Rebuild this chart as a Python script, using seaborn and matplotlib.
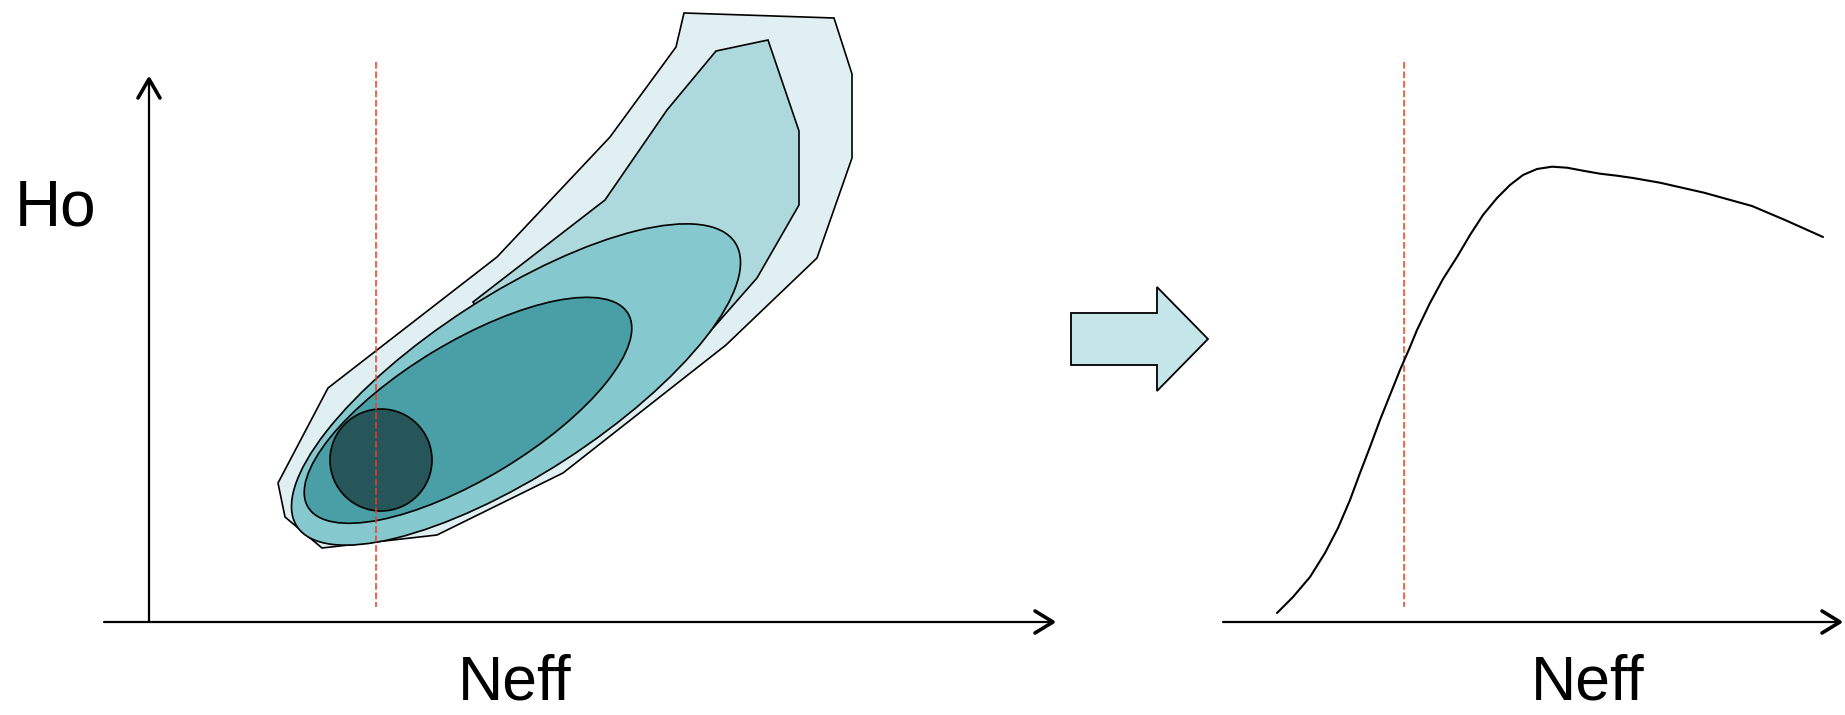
import matplotlib
matplotlib.use("Agg")
import matplotlib.pyplot as plt
from matplotlib.patches import Polygon, Ellipse, Circle
import seaborn as sns
import numpy as np

# everything is laid out in picture pixels (x right, y down)
outer_x = [684, 834, 852, 852, 817, 726, 563, 437, 322, 285, 278, 328, 497, 610, 676]
outer_y = [13, 18, 74, 158, 258, 345, 473, 535, 548, 517, 483, 388, 257, 137, 47]

inner_x = [716, 768, 799, 799, 757, 685, 600, 500, 473, 605, 667]
inner_y = [51, 40, 131, 205, 278, 360, 380, 340, 302, 200, 110]

# ellipses: centre x, centre y, width, height, tilt (deg)
ell_95 = (516, 384.5, 522, 180, 32.9)
ell_68 = (468, 410.3, 374, 136, 31.2)
best_fit = (381, 460, 51)

# projected curve on the right
curve_x = [1277, 1293, 1310, 1325, 1338, 1350, 1360, 1370, 1380, 1390, 1400, 1410,
           1417, 1430, 1443, 1457, 1470, 1483, 1497, 1510, 1523, 1537, 1552, 1567,
           1583, 1600, 1617, 1633, 1660, 1704, 1752, 1785, 1823]
curve_y = [613, 597, 577, 553, 528, 500, 473, 447, 420, 395, 370, 347,
           330, 303, 279, 257, 235, 215, 198, 185, 175, 169, 166.7, 167.7,
           170.7, 173.7, 175.7, 178, 182.7, 192.7, 206, 220, 237]

cut_x = [376, 1404]
cut_top, cut_bottom = 62, 607

arrow_x = [1071, 1157, 1157, 1208, 1157, 1157, 1071]
arrow_y = [313, 313, 287, 339, 391, 365, 365]

sns.set_style("white")
plt.rcParams['font.family'] = ['Liberation Sans', 'DejaVu Sans']

fig = plt.figure(figsize=(18.45, 7.15), dpi=100)
ax = fig.add_axes([0, 0, 1, 1])
ax.set_xlim(0, 1845)
ax.set_ylim(715, 0)
ax.axis('off')

ax.add_patch(Polygon(np.column_stack([outer_x, outer_y]), closed=True,
                     facecolor='#e0f0f2', edgecolor='black', lw=1.2, zorder=1))
ax.add_patch(Polygon(np.column_stack([inner_x, inner_y]), closed=True,
                     facecolor='#add9dd', edgecolor='black', lw=1.2, zorder=2))
cx, cy, w, h, a = ell_95
ax.add_patch(Ellipse((cx, cy), w, h, angle=-a, facecolor='#85c9cf',
                     edgecolor='black', lw=1.2, zorder=3))
cx, cy, w, h, a = ell_68
ax.add_patch(Ellipse((cx, cy), w, h, angle=-a, facecolor='#4a9ea5',
                     edgecolor='black', lw=1.2, zorder=4))
ax.add_patch(Circle(best_fit[:2], best_fit[2], facecolor='#26565a',
                    edgecolor='black', lw=1.2, zorder=5))

# red dashed cut lines
for xc in cut_x:
    ax.plot([xc, xc], [cut_top, cut_bottom], color='#ee3b24', lw=1.1,
            dashes=(4.4, 1.8), zorder=6)

# axes drawn by hand
ax.plot([149, 149], [622, 80], color='black', lw=1.6, zorder=6)
ax.plot([104, 1052], [622, 622], color='black', lw=1.6, zorder=6)
ax.plot([1223, 1839], [622, 622], color='black', lw=1.6, zorder=6)
kw = dict(color='black', lw=2.6, solid_capstyle='round', solid_joinstyle='round', zorder=6)
ax.plot([138, 149, 160], [98, 79, 98], **kw)
ax.plot([1035, 1053, 1035], [611, 622, 633], **kw)
ax.plot([1822, 1840, 1822], [611, 622, 633], **kw)

sns.lineplot(x=curve_x, y=curve_y, sort=False, color='black', lw=1.5, ax=ax, zorder=6)

ax.add_patch(Polygon(np.column_stack([arrow_x, arrow_y]), closed=True,
                     facecolor='#c5e6e8', edgecolor='black', lw=1.3, zorder=6))

ax.text(56, 208, 'Ho', fontsize=46, ha='center', va='center', color='black')
ax.text(515, 700, 'Neff', fontsize=45, ha='center', va='baseline', color='black')
ax.text(1588, 700, 'Neff', fontsize=45, ha='center', va='baseline', color='black')

fig.savefig('out.png', dpi=100)
